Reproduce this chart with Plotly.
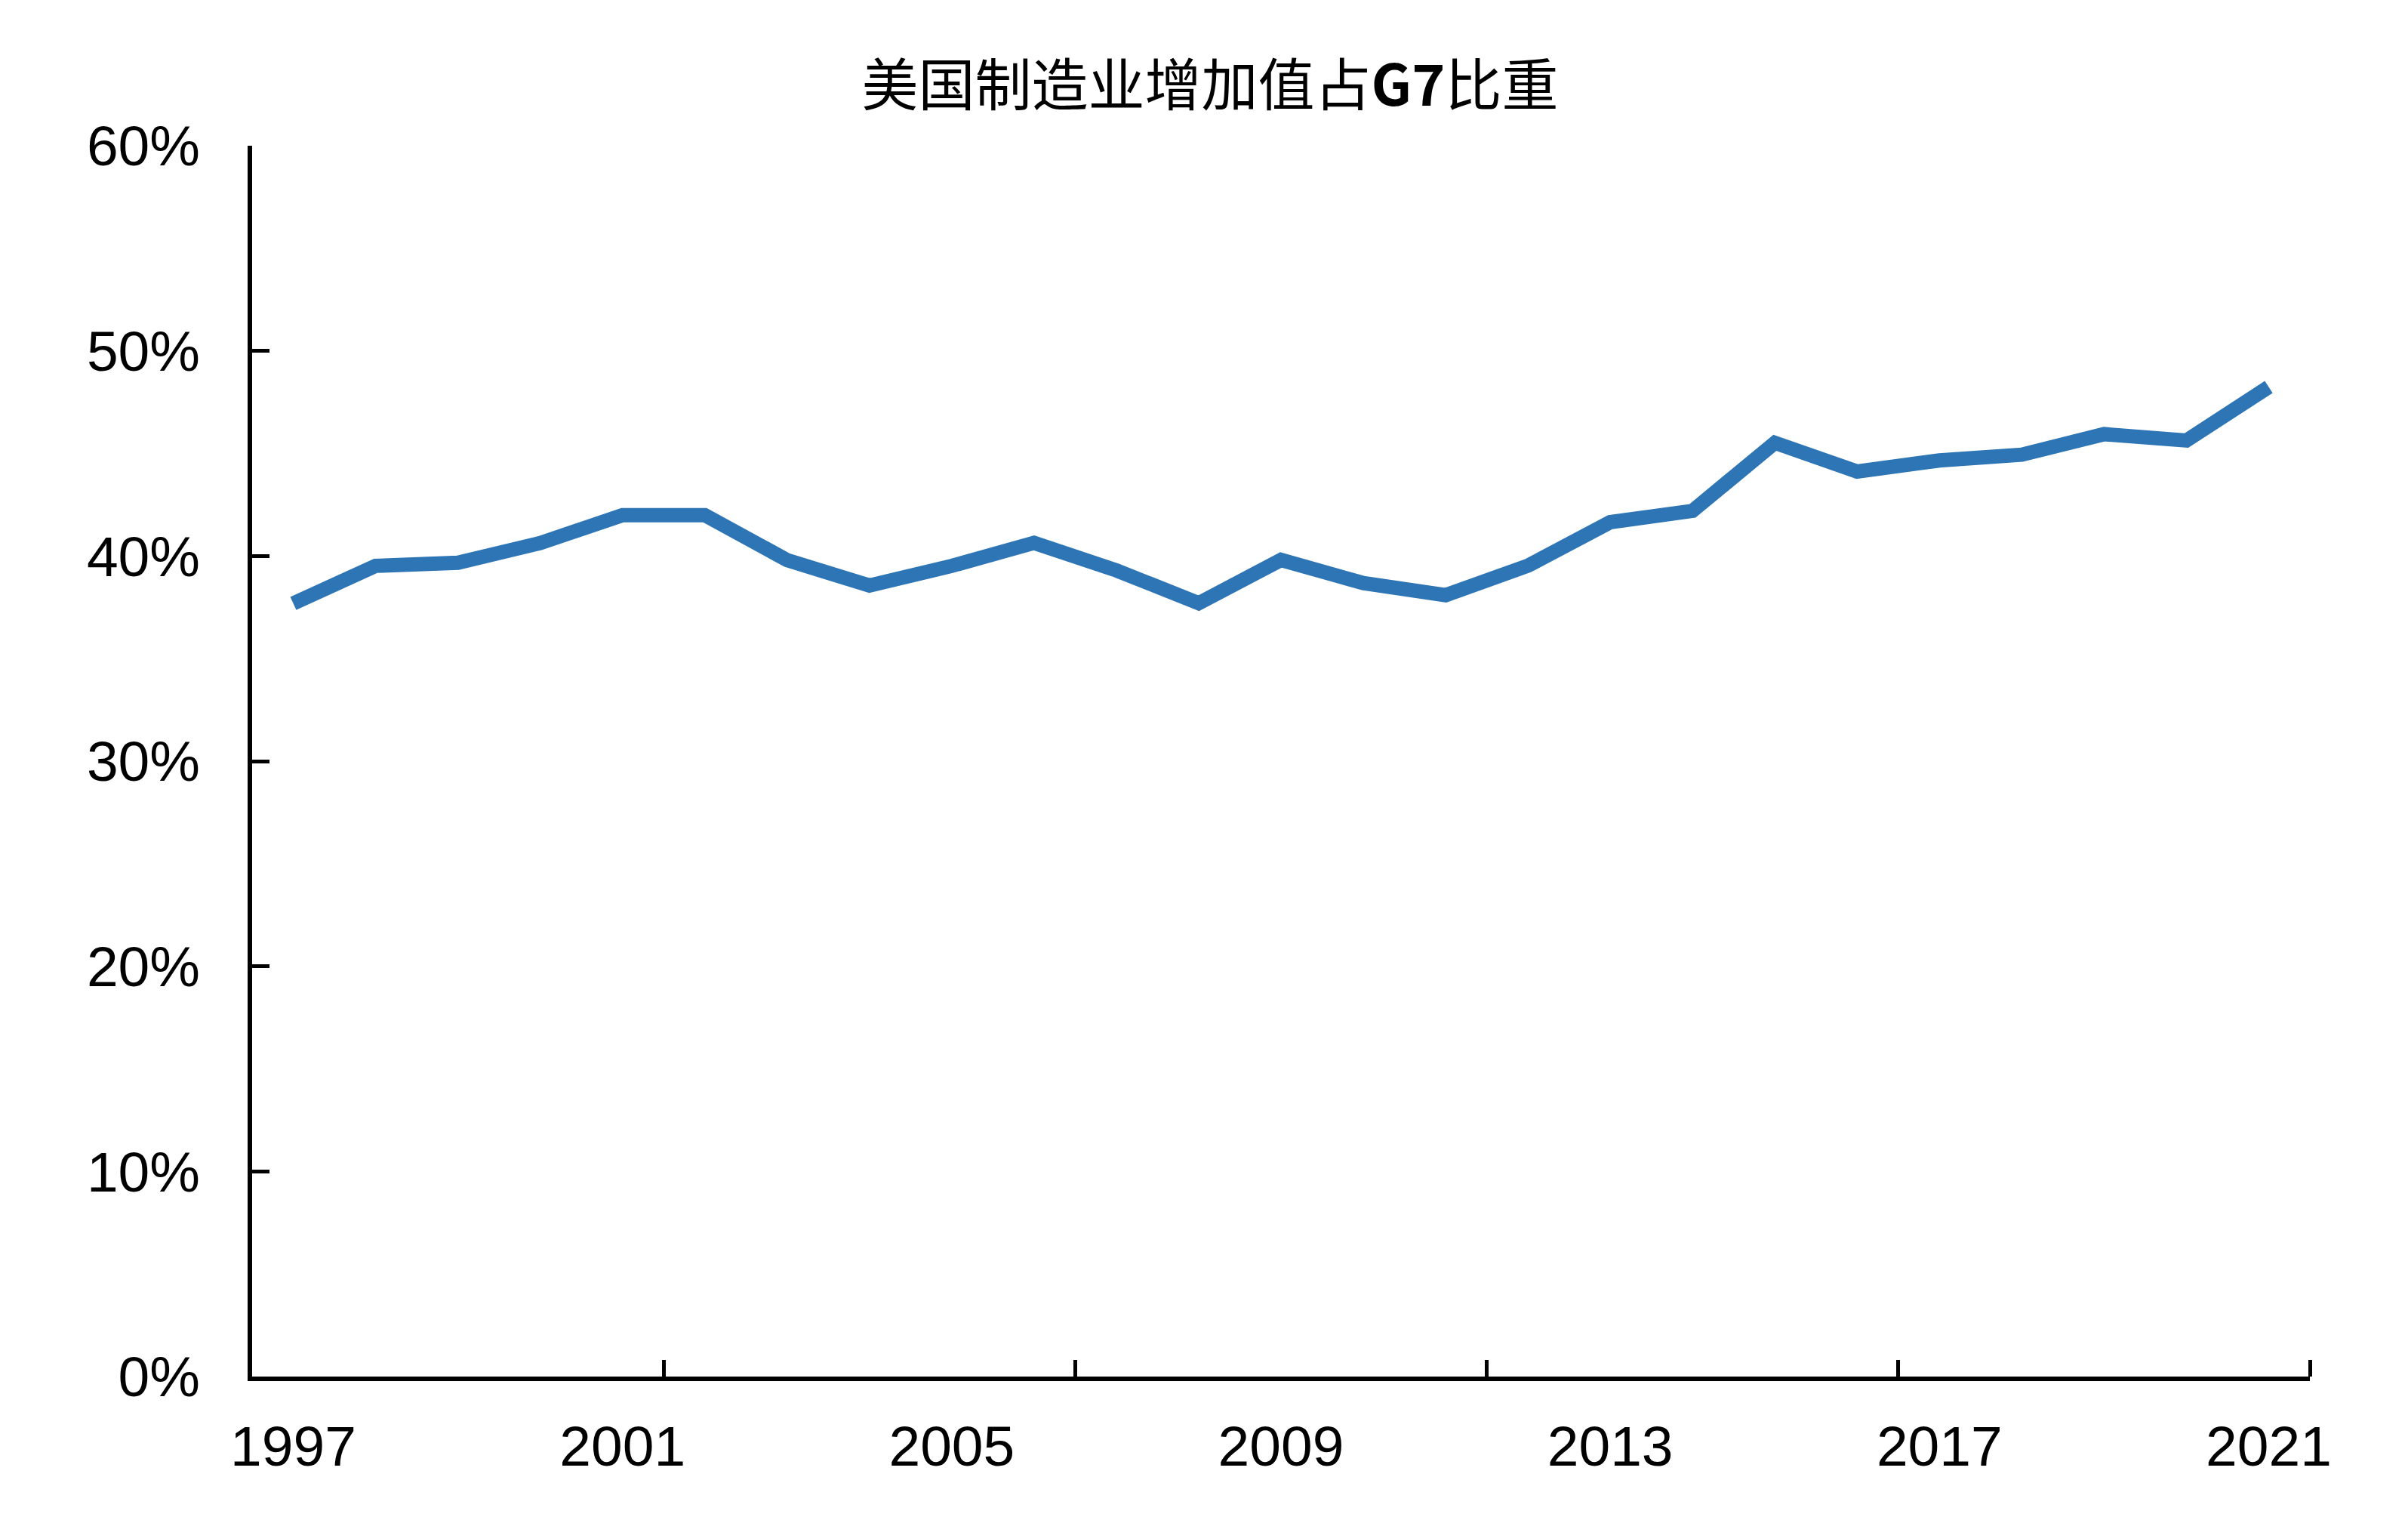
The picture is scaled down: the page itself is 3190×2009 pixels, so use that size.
import plotly.graph_objects as go

years = list(range(1997, 2022))
share = [37.69, 39.52, 39.67, 40.63, 41.99, 41.99, 39.80, 38.56, 39.52, 40.64,
         39.30, 37.70, 39.81, 38.68, 38.09, 39.53, 41.65, 42.20, 45.52, 44.12,
         44.66, 44.94, 45.94, 45.63, 48.24]
share_frac = [v / 100 for v in share]

label_years = [1997, 2001, 2005, 2009, 2013, 2017, 2021]
y_ticks = [0, 0.1, 0.2, 0.3, 0.4, 0.5, 0.6]
title_text = "美国制造业增加值占<b>G7</b>比重"

fig = go.Figure()
fig.add_trace(go.Scatter(
    x=years, y=share_frac, mode="lines",
    line=dict(color="#2E75B6", width=19),
    showlegend=False,
))

axis_font = dict(family="Liberation Sans, Arial, sans-serif", size=75, color="#000000")

fig.update_layout(
    width=3190, height=2009,
    margin=dict(l=326, r=138, t=185, b=194),
    paper_bgcolor="white", plot_bgcolor="white",
    title=dict(
        text=title_text, x=0.5, xanchor="center", xref="container",
        y=1 - 106 / 2009, yanchor="middle", yref="container",
        font=dict(family="Noto Sans CJK SC, sans-serif", size=75, color="#000000"),
    ),
)

fig.update_xaxes(
    range=[1996.5, 2021.5],
    tickmode="array", tickvals=label_years,
    ticktext=[str(y) for y in label_years],
    ticks="", tickfont=axis_font,
    showline=True, linecolor="black", linewidth=6,
    showgrid=False, zeroline=False,
    ticklabelstandoff=22,
    minor=dict(tickmode="array", tickvals=[2001.5, 2006.5, 2011.5, 2016.5, 2021.5],
               ticks="inside", ticklen=22, tickwidth=5, tickcolor="black", showgrid=False),
)
fig.update_yaxes(
    range=[0, 0.6],
    tickmode="array", tickvals=y_ticks,
    ticktext=[f"{int(round(v*100))}%" for v in y_ticks],
    ticks="inside", ticklen=23, tickwidth=5, tickcolor="black",
    tickfont=axis_font,
    showline=True, linecolor="black", linewidth=6,
    showgrid=False, zeroline=False,
    ticklabelstandoff=48,
)

fig.write_html("out.html")
